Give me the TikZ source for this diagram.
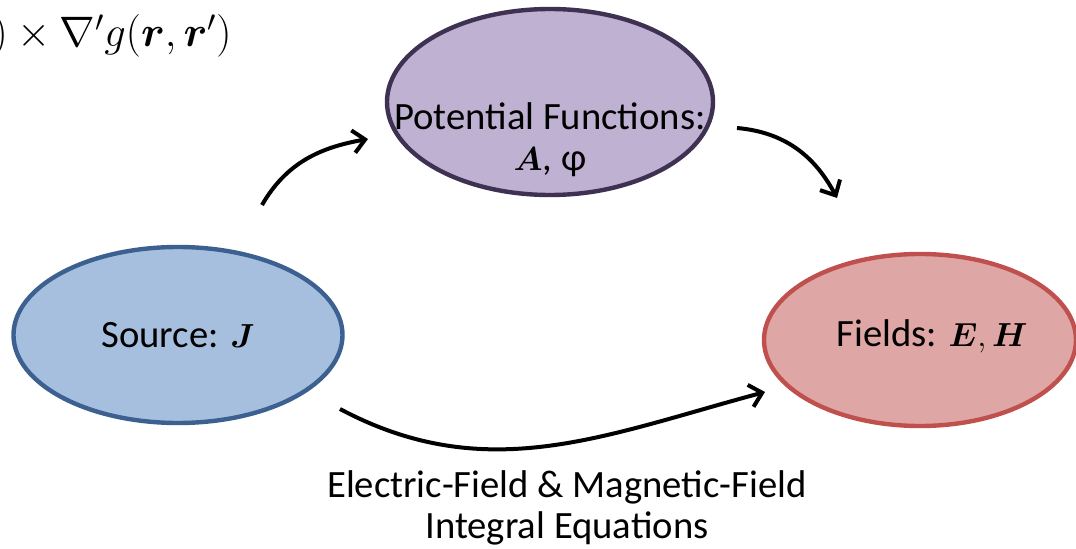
\RequirePackage{fix-cm}
\documentclass[tikz,border=0pt]{standalone}
\usepackage{amsmath}
\usepackage{amssymb}
\usepackage{fontspec}
\setmainfont{Carlito}
\usetikzlibrary{shapes.geometric, arrows.meta, positioning, calc}

\DeclareMathSizes{29}{25}{18}{14}

\definecolor{srcfill}{HTML}{A7BFDE}
\definecolor{srcdraw}{HTML}{3C6190}
\definecolor{potfill}{HTML}{BFB1D2}
\definecolor{potdraw}{HTML}{3F3151}
\definecolor{fldfill}{HTML}{DFA6A6}
\definecolor{flddraw}{HTML}{C0504D}

\newdimen\pu
\pu=0.75pt

\begin{document}
\begin{tikzpicture}[
    x=0.75pt, y=-0.75pt,
    big/.style = {font=\fontsize{29}{31}\selectfont},
    blob/.style = {ellipse, line width=3.3pt, inner sep=0pt, align=center, big},
    flow/.style = {-{Straight Barb[length=9pt,width=17pt]}, line width=3pt, black}
]
    \useasboundingbox (0,0) rectangle (1076,549);

    % 1. Kernel term, cut at the left edge
    \node [font=\fontsize{32}{36}\selectfont, anchor=base west] (kern) at (-12,47) {$)\times\nabla' g(\boldsymbol{r},\boldsymbol{r}')$};

    % 2. Ellipses and their texts
    \node [blob, draw=srcdraw, fill=srcfill, minimum width=329\pu, minimum height=176\pu] (src) at (178,335) {Source: $\boldsymbol{J}$};
    \node [blob, draw=potdraw, fill=potfill, minimum width=326\pu, minimum height=186\pu] (pot) at (550,102) {};
    \node [big, align=center] (potname) at (550,140) {Potential Functions:\\$\boldsymbol{A}$, φ};
    \node [blob, draw=flddraw, fill=fldfill, minimum width=312\pu, minimum height=172\pu] (fld) at (920,340) {};
    \node [big] (fldname) at (932,336) {Fields: $\boldsymbol{E}, \boldsymbol{H}$};

    % 3. Arrow ends
    \coordinate (s1) at (262,205);
    \coordinate (e1) at (368,139);
    \coordinate (s2) at (737,128);
    \coordinate (e2) at (837,198);
    \coordinate (s3) at (340,409);
    \coordinate (e3) at (765,392);

    % 4. Arrows
    \draw [flow] (s1) to[out=60, in=190] (e1);
    \draw [flow] (s2) to[out=-5, in=118] (e2);
    \draw [flow] (s3) to[out=-28, in=195] (e3);

    % 5. Label of the lower path
    \node [big, align=center] (ieq) at (567,508) {Electric-Field \& Magnetic-Field\\Integral Equations};
\end{tikzpicture}
\end{document}
